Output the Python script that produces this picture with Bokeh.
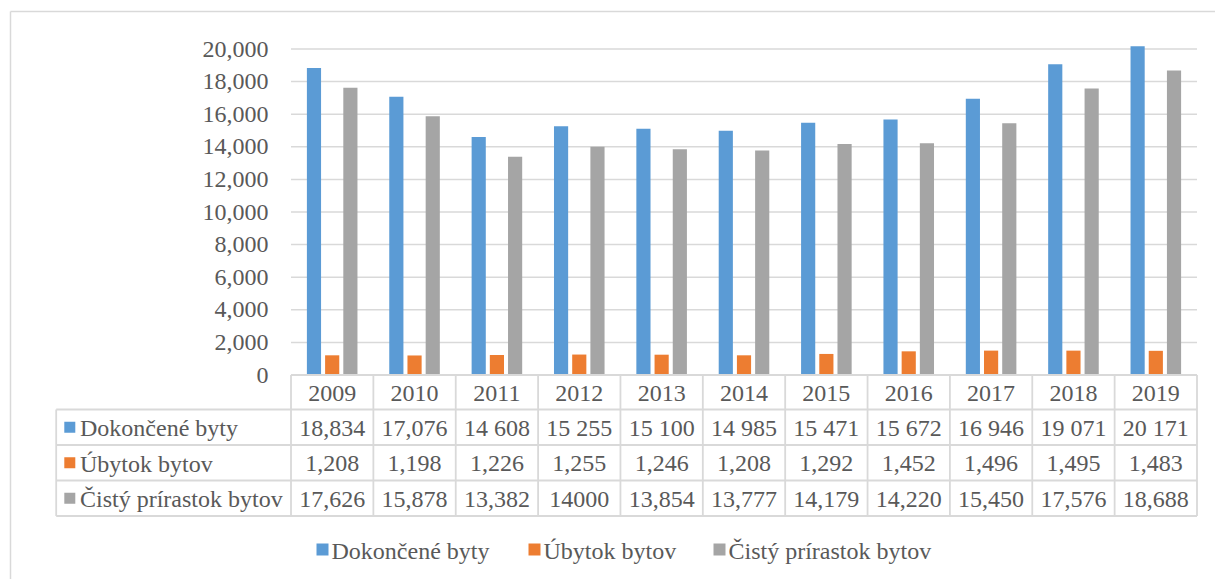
from bokeh.plotting import figure
from bokeh.models import ColumnDataSource, Range1d
from bokeh.core.properties import value
from bokeh.embed import file_html
from bokeh.resources import INLINE

# ---------------- data ----------------
years = ["2009", "2010", "2011", "2012", "2013", "2014", "2015", "2016", "2017", "2018", "2019"]
series_names = ["Dokončené byty", "Úbytok bytov", "Čistý prírastok bytov"]
dokoncene = [18834, 17076, 14608, 15255, 15100, 14985, 15471, 15672, 16946, 19071, 20171]
ubytok = [1208, 1198, 1226, 1255, 1246, 1208, 1292, 1452, 1496, 1495, 1483]
cisty = [17626, 15878, 13382, 14000, 13854, 13777, 14179, 14220, 15450, 17576, 18688]
# labels exactly as printed in the data table
dokoncene_labels = ["18,834", "17,076", "14 608", "15 255", "15 100", "14 985", "15 471", "15 672", "16 946", "19 071", "20 171"]
ubytok_labels = ["1,208", "1,198", "1,226", "1,255", "1,246", "1,208", "1,292", "1,452", "1,496", "1,495", "1,483"]
cisty_labels = ["17,626", "15,878", "13,382", "14000", "13,854", "13,777", "14,179", "14,220", "15,450", "17,576", "18,688"]
y_ticks = [0, 2000, 4000, 6000, 8000, 10000, 12000, 14000, 16000, 18000, 20000]

# ---------------- style / layout ----------------
colors = ["#5b9bd5", "#ed7d31", "#a5a5a5"]
FONT = value("Liberation Serif")
FS = "24px"
TXT = "#595959"
LINE = "#d9d9d9"

W, H, OFF = 1215, 579, 0
PL, PR = 290.5, 1196.5          # plot area left/right (page px)
Y0, Y20 = 374.5, 48.5           # page y of value 0 and 20000
n = len(years)
cw = (PR - PL) / n
ppu = (Y0 - Y20) / 20000.0

def dx(px):  # page x -> data x
    return (px - PL) / cw

def dy(py):  # page y -> data y
    return (Y0 - py) / ppu

p = figure(width=W, height=H, output_backend="svg", toolbar_location=None,
           x_axis_type=None, y_axis_type=None, min_border=0,
           x_range=Range1d(dx(OFF), dx(OFF + W)), y_range=Range1d(dy(OFF + H), dy(OFF)))
p.outline_line_color = None
p.background_fill_color = "white"
p.border_fill_color = "white"

# outer chart border
p.segment(x0=[dx(10), dx(10)], y0=[dy(11), dy(11)], x1=[dx(10), dx(OFF + W + 5)], y1=[dy(OFF + H + 5), dy(11)],
          line_color=LINE, line_width=1.5)

# gridlines
p.segment(x0=[0] * len(y_ticks), x1=[n] * len(y_ticks), y0=y_ticks, y1=y_ticks,
          line_color=LINE, line_width=1.5)

# y tick labels
p.text(x=[dx(268)] * len(y_ticks), y=y_ticks, text=[f"{t:,}" for t in y_ticks],
       text_font=FONT, text_font_size=FS, text_color=TXT, text_align="right", text_baseline="middle")

# bars
centers = [i + 0.5 for i in range(n)]
offs = [-0.221, 0.0, 0.221]
for vals, c, o in zip([dokoncene, ubytok, cisty], colors, offs):
    src = ColumnDataSource(dict(x=[c0 + o for c0 in centers], top=vals))
    p.vbar(x="x", top="top", bottom=0, width=0.172, source=src, fill_color=c, line_color=None)

# ---------------- data table ----------------
row_y = [374.5, 409, 444.5, 480, 515.5]      # page y of horizontal table lines
left_col = 55.7
p.segment(x0=[0] + [dx(left_col)] * 4, x1=[n] * 5, y0=[dy(v) for v in row_y], y1=[dy(v) for v in row_y],
          line_color=LINE, line_width=1.8)
p.segment(x0=list(range(n + 1)), x1=list(range(n + 1)), y0=[dy(row_y[0])] * (n + 1), y1=[dy(row_y[-1])] * (n + 1),
          line_color=LINE, line_width=1.8)
p.segment(x0=[dx(left_col)], x1=[dx(left_col)], y0=[dy(row_y[1])], y1=[dy(row_y[-1])],
          line_color=LINE, line_width=1.8)

row_c = [dy((row_y[i] + row_y[i + 1]) / 2 + 1) for i in range(4)]
p.text(x=centers, y=[row_c[0]] * n, text=years, text_font=FONT, text_font_size=FS, text_color=TXT,
       text_align="center", text_baseline="middle")
for r, labels in enumerate([dokoncene_labels, ubytok_labels, cisty_labels]):
    p.text(x=centers, y=[row_c[r + 1]] * n, text=labels, text_font=FONT, text_font_size=FS, text_color=TXT,
           text_align="center", text_baseline="middle")
p.scatter(x=[dx(69.3)] * 3, y=[dy((row_y[i] + row_y[i + 1]) / 2) for i in range(1, 4)], marker="square",
          size=11, fill_color=colors, line_color=None)
p.text(x=[dx(79.5)] * 3, y=row_c[1:], text=series_names, text_font=FONT, text_font_size=FS, text_color=TXT,
       text_align="left", text_baseline="middle")

# ---------------- legend ----------------
leg_sq_x = [322, 534, 719]
leg_tx_x = [331, 543, 728]
leg_y = 549
p.scatter(x=[dx(v) for v in leg_sq_x], y=[dy(leg_y)] * 3, marker="square", size=12,
          fill_color=colors, line_color=None)
p.text(x=[dx(v) for v in leg_tx_x], y=[dy(leg_y + 1)] * 3, text=series_names, text_font=FONT, text_font_size=FS,
       text_color=TXT, text_align="left", text_baseline="middle")

open("out.html", "w").write(file_html(p, INLINE))
